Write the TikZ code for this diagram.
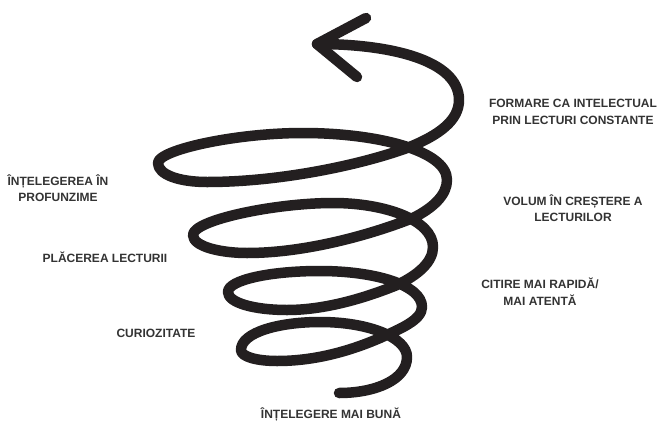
\documentclass[tikz,border=0pt]{standalone}
\usepackage{fontspec}
\setmainfont{Liberation Sans}
\definecolor{ink}{HTML}{231F20}
\definecolor{labelink}{HTML}{333333}
\tikzset{
  x=1pt,y=-1pt,
  spiral/.style={draw=ink,line width=10.5pt,line cap=round,line join=round},
  lbl/.style={text=labelink,font=\bfseries\fontsize{12}{16}\selectfont,align=center,inner sep=0pt,anchor=center}
}
\begin{document}
\begin{tikzpicture}
\useasboundingbox (0,0) rectangle (657,421);
\draw[spiral] (339,393)
 .. controls (375,393) and (407,380) .. (407,357)
 .. controls (407,338) and (370,322) .. (320,322)
 .. controls (280,322) and (241,332) .. (241,350)
 .. controls (241,357) and (258,361) .. (277,361)
 .. controls (315,361) and (350,351) .. (380,338)
 .. controls (400,329) and (422,320) .. (422,307)
 .. controls (422,285) and (375,271) .. (320,271)
 .. controls (270,271) and (228,280) .. (228,292)
 .. controls (228,303) and (255,310) .. (287,310)
 .. controls (325,310) and (365,298) .. (397,285)
 .. controls (418,275) and (433,262) .. (433,247)
 .. controls (433,220) and (385,203) .. (333,203)
 .. controls (275,203) and (193,220) .. (193,235)
 .. controls (193,247) and (222,253) .. (247,253)
 .. controls (305,253) and (370,235) .. (413,218)
 .. controls (433,208) and (447,195) .. (447,180)
 .. controls (447,150) and (375,133) .. (303,133)
 .. controls (235,133) and (158,150) .. (158,163)
 .. controls (158,175) and (180,182) .. (207,182)
 .. controls (280,182) and (360,165) .. (407,148)
 .. controls (440,135) and (459,120) .. (459,100)
 .. controls (459,60) and (390,44) .. (317,44);
\draw[spiral] (366,18) -- (317,44) -- (357,77);
\node[lbl] (a) at (573,103) {FORMARE CA INTELECTUAL};
\node[lbl] (b) at (573,120) {PRIN LECTURI CONSTANTE};
\node[lbl] (c) at (573,202) {VOLUM ÎN CREȘTERE A};
\node[lbl] (d) at (573,217) {LECTURILOR};
\node[lbl] (e) at (540,283) {CITIRE MAI RAPIDĂ/};
\node[lbl] (f) at (540,300) {MAI ATENTĂ};
\node[lbl] (g) at (331,414) {ÎNȚELEGERE MAI BUNĂ};
\node[lbl] (h) at (58,181) {ÎNȚELEGEREA ÎN};
\node[lbl] (i) at (58,197) {PROFUNZIME};
\node[lbl] (j) at (105,257) {PLĂCEREA LECTURII};
\node[lbl] (k) at (156,333) {CURIOZITATE};
\end{tikzpicture}
\end{document}
